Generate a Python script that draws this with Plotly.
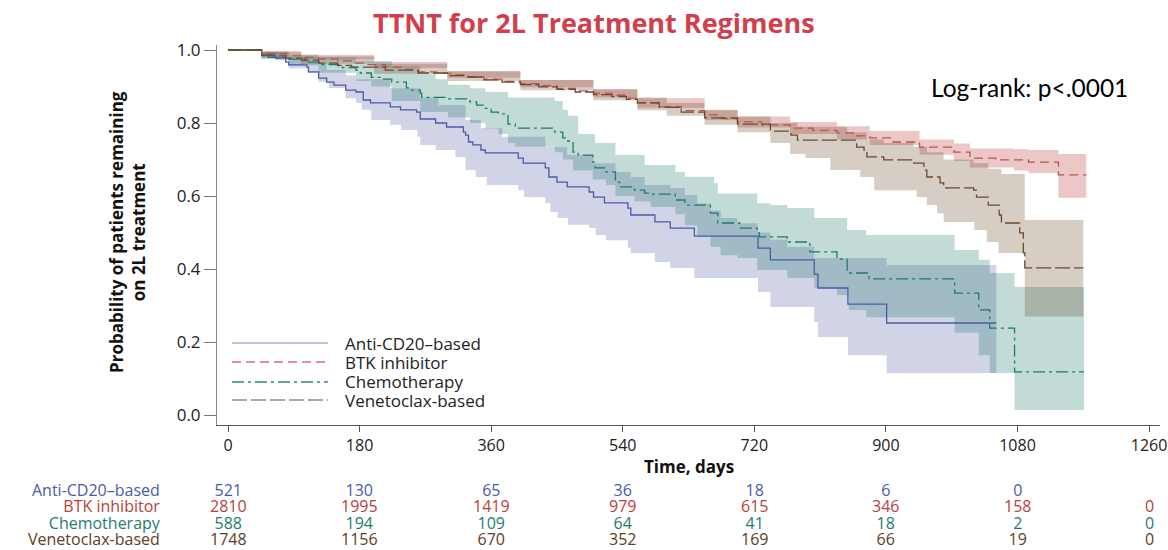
import plotly.graph_objects as go

# ---- Kaplan-Meier estimates (days, probability) ----
cd20_t = [0, 46, 65, 79, 83, 108, 110, 124, 135, 145, 161, 175, 185, 195, 222, 236, 258, 263, 284, 299,
          322, 325, 329, 335, 346, 352, 397, 404, 434, 439, 450, 464, 494, 500, 515, 547, 551, 584, 605,
          638, 725, 742, 802, 807, 848, 901, 1051]
cd20_s = [1.0, 0.986, 0.978, 0.967, 0.959, 0.953, 0.94, 0.923, 0.912, 0.904, 0.89, 0.885, 0.863, 0.855,
          0.844, 0.836, 0.83, 0.811, 0.80, 0.789, 0.775, 0.767, 0.748, 0.74, 0.726, 0.718, 0.704, 0.69,
          0.677, 0.652, 0.638, 0.625, 0.611, 0.597, 0.581, 0.567, 0.548, 0.529, 0.512, 0.49, 0.457, 0.425,
          0.386, 0.348, 0.304, 0.252, 0.252]
cd20_lo_t = [0, 46, 65, 83, 110, 124, 138, 161, 175, 183, 196, 222, 237, 259, 263, 284, 311, 325, 339, 354,
             397, 405, 434, 441, 451, 465, 494, 503, 517, 547, 551, 584, 605, 638, 725, 742, 802, 807, 848,
             901, 1051]
cd20_lo = [1.0, 0.98, 0.972, 0.95, 0.937, 0.912, 0.896, 0.868, 0.855, 0.836, 0.808, 0.795, 0.781, 0.762,
           0.74, 0.726, 0.707, 0.671, 0.652, 0.63, 0.616, 0.597, 0.581, 0.556, 0.54, 0.521, 0.512, 0.493,
           0.479, 0.458, 0.444, 0.419, 0.403, 0.375, 0.337, 0.296, 0.255, 0.214, 0.164, 0.115, 0.115]
cd20_hi_t = [0, 46, 83, 110, 135, 161, 175, 222, 263, 288, 325, 346, 375, 434, 464, 500, 530, 551, 570, 605,
             625, 642, 660, 674, 697, 725, 742, 765, 802, 901, 1051]
cd20_hi = [1.0, 0.995, 0.98, 0.965, 0.945, 0.93, 0.92, 0.895, 0.87, 0.849, 0.808, 0.786, 0.762, 0.734,
           0.712, 0.69, 0.666, 0.652, 0.63, 0.622, 0.603, 0.58, 0.56, 0.54, 0.525, 0.50, 0.48, 0.46, 0.43,
           0.411, 0.411]

btk_t = [0, 46, 55, 79, 100, 124, 150, 169, 190, 215, 240, 260, 285, 305, 328, 350, 375, 400, 425, 450,
         475, 500, 525, 545, 560, 590, 620, 652, 675, 697, 730, 769, 800, 833, 855, 878, 910, 946, 993,
         1015, 1050, 1095, 1136, 1174]
btk_s = [1.0, 0.993, 0.99, 0.984, 0.98, 0.975, 0.97, 0.964, 0.96, 0.953, 0.947, 0.94, 0.936, 0.932, 0.926,
         0.92, 0.914, 0.908, 0.902, 0.895, 0.888, 0.882, 0.876, 0.868, 0.855, 0.845, 0.834, 0.822, 0.812,
         0.803, 0.795, 0.786, 0.78, 0.773, 0.765, 0.759, 0.748, 0.734, 0.72, 0.704, 0.699, 0.693, 0.658,
         0.658]
btk_band_t = [0, 46, 100, 200, 300, 400, 500, 560, 652, 697, 769, 833, 878, 946, 993, 1015, 1075, 1095,
              1136, 1174]
btk_lo = [1.0, 0.988, 0.974, 0.951, 0.924, 0.898, 0.87, 0.842, 0.808, 0.788, 0.77, 0.755, 0.74, 0.713,
          0.696, 0.678, 0.67, 0.663, 0.595, 0.595]
btk_hi = [1.0, 0.997, 0.986, 0.967, 0.942, 0.918, 0.893, 0.868, 0.836, 0.818, 0.803, 0.791, 0.778, 0.755,
          0.744, 0.73, 0.728, 0.726, 0.715, 0.715]

chemo_t = [0, 46, 55, 83, 106, 124, 151, 175, 181, 196, 213, 224, 244, 250, 263, 265, 301, 331, 340, 352,
           360, 370, 383, 393, 447, 458, 465, 472, 479, 499, 502, 517, 530, 536, 556, 570, 578, 612, 625,
           660, 670, 700, 724, 727, 765, 796, 833, 847, 877, 994, 1027, 1042, 1076, 1171]
chemo_s = [1.0, 0.985, 0.98, 0.975, 0.967, 0.96, 0.952, 0.945, 0.937, 0.925, 0.92, 0.912, 0.896, 0.89,
           0.882, 0.87, 0.866, 0.858, 0.849, 0.84, 0.83, 0.825, 0.797, 0.786, 0.775, 0.759, 0.75, 0.72,
           0.712, 0.693, 0.677, 0.666, 0.638, 0.625, 0.616, 0.608, 0.605, 0.589, 0.575, 0.553, 0.526, 0.512,
           0.499, 0.488, 0.474, 0.447, 0.427, 0.389, 0.373, 0.334, 0.288, 0.238, 0.118, 0.118]
chemo_lo_t = [0, 46, 83, 124, 175, 196, 224, 263, 301, 331, 352, 370, 383, 393, 447, 458, 472, 499, 517,
              530, 556, 578, 612, 625, 642, 660, 674, 697, 724, 765, 802, 833, 849, 873, 994, 1027, 1042,
              1076, 1171]
chemo_lo = [1.0, 0.975, 0.958, 0.938, 0.915, 0.9, 0.86, 0.83, 0.815, 0.8, 0.785, 0.77, 0.745, 0.735, 0.72,
            0.70, 0.67, 0.645, 0.63, 0.60, 0.585, 0.57, 0.55, 0.52, 0.49, 0.46, 0.438, 0.43, 0.397, 0.375,
            0.348, 0.329, 0.288, 0.268, 0.225, 0.164, 0.115, 0.014, 0.014]
chemo_hi_t = [0, 46, 83, 124, 175, 224, 263, 284, 301, 331, 352, 383, 447, 458, 465, 479, 502, 530, 570,
              612, 625, 665, 670, 724, 742, 765, 802, 847, 873, 994, 1027, 1042, 1076, 1171]
chemo_hi = [1.0, 0.995, 0.988, 0.98, 0.97, 0.955, 0.935, 0.92, 0.905, 0.895, 0.885, 0.87, 0.86, 0.836,
            0.82, 0.77, 0.745, 0.712, 0.685, 0.666, 0.653, 0.635, 0.607, 0.58, 0.575, 0.567, 0.54, 0.507,
            0.493, 0.452, 0.425, 0.389, 0.351, 0.351]

ven_t = [0, 46, 60, 79, 100, 124, 150, 169, 215, 260, 300, 328, 350, 375, 400, 425, 450, 475, 500, 525,
         545, 560, 590, 620, 652, 697, 742, 770, 779, 860, 870, 874, 897, 938, 952, 956, 974, 979, 1020,
         1024, 1040, 1055, 1058, 1083, 1088, 1090, 1170]
ven_s = [1.0, 0.986, 0.984, 0.978, 0.972, 0.964, 0.958, 0.953, 0.945, 0.937, 0.93, 0.926, 0.918, 0.912,
         0.905, 0.899, 0.892, 0.885, 0.878, 0.872, 0.865, 0.855, 0.843, 0.83, 0.814, 0.797, 0.778, 0.767,
         0.753, 0.734, 0.726, 0.707, 0.699, 0.69, 0.671, 0.652, 0.636, 0.622, 0.616, 0.597, 0.575, 0.548,
         0.526, 0.499, 0.444, 0.403, 0.403]
ven_lo_t = [0, 46, 100, 200, 300, 400, 500, 560, 600, 652, 697, 742, 769, 790, 824, 865, 884, 942, 956,
            970, 979, 1021, 1038, 1054, 1090, 1170]
ven_lo = [1.0, 0.978, 0.962, 0.935, 0.915, 0.89, 0.862, 0.835, 0.82, 0.795, 0.775, 0.745, 0.715, 0.704,
          0.671, 0.652, 0.616, 0.597, 0.575, 0.553, 0.529, 0.507, 0.474, 0.444, 0.27, 0.27]
ven_hi_t = [0, 46, 100, 200, 300, 400, 500, 560, 600, 652, 697, 742, 779, 847, 874, 897, 938, 956, 979,
            1020, 1040, 1058, 1090, 1170]
ven_hi = [1.0, 0.993, 0.982, 0.962, 0.942, 0.918, 0.892, 0.87, 0.855, 0.835, 0.818, 0.8, 0.79, 0.775,
          0.755, 0.745, 0.735, 0.72, 0.70, 0.69, 0.675, 0.66, 0.534, 0.534]

# ---- number at risk ----
risk_times = [0, 180, 360, 540, 720, 900, 1080, 1260]
risk_cd20 = ["521", "130", "65", "36", "18", "6", "0", ""]
risk_btk = ["2810", "1995", "1419", "979", "615", "346", "158", "0"]
risk_chemo = ["588", "194", "109", "64", "41", "18", "2", "0"]
risk_ven = ["1748", "1156", "670", "352", "169", "66", "19", "0"]

groups = [
    dict(name="Anti-CD20\u2013based", t=cd20_t, s=cd20_s, lo_t=cd20_lo_t, lo=cd20_lo, hi_t=cd20_hi_t,
         hi=cd20_hi, line="#4B5BA6", legend_line="#A6AED6", band="rgba(70,85,160,0.25)", dash="solid",
         risk=risk_cd20, text="#4B5BA6"),
    dict(name="BTK inhibitor", t=btk_t, s=btk_s, lo_t=btk_band_t, lo=btk_lo, hi_t=btk_band_t, hi=btk_hi,
         line="#C0504D", legend_line="#D07070", band="rgba(190,70,70,0.30)", dash="9px,5px",
         risk=risk_btk, text="#B83F3A"),
    dict(name="Chemotherapy", t=chemo_t, s=chemo_s, lo_t=chemo_lo_t, lo=chemo_lo, hi_t=chemo_hi_t,
         hi=chemo_hi, line="#1E7B6B", legend_line="#2E8B7A", band="rgba(31,122,106,0.27)",
         dash="12px,4px,3px,4px", risk=risk_chemo, text="#1E7D6C"),
    dict(name="Venetoclax-based", t=ven_t, s=ven_s, lo_t=ven_lo_t, lo=ven_lo, hi_t=ven_hi_t, hi=ven_hi,
         line="#6B4A2B", legend_line="#A08A78", band="rgba(107,74,43,0.28)", dash="15px,4px",
         risk=risk_ven, text="#5E4022"),
]

fig = go.Figure()

# confidence bands
for g in groups:
    fig.add_trace(go.Scatter(x=g["lo_t"], y=g["lo"], mode="lines", line=dict(width=0, shape="hv"),
                             showlegend=False, hoverinfo="skip"))
    fig.add_trace(go.Scatter(x=g["hi_t"], y=g["hi"], mode="lines", line=dict(width=0, shape="hv"),
                             fill="tonexty", fillcolor=g["band"], showlegend=False, hoverinfo="skip"))

# survival curves
for g in groups:
    fig.add_trace(go.Scatter(x=g["t"], y=g["s"], mode="lines", name=g["name"],
                             line=dict(color=g["line"], width=1.3, shape="hv", dash=g["dash"]),
                             showlegend=False))

FONT = "Open Sans"
shapes = []
annotations = []


def stacked(lines, colors, size):
    """Join coloured lines into one multi-line label."""
    return "<br>".join(
        f'<span style="color:{c};font-size:{size}px">{txt if txt else "&nbsp;"}</span>'
        for txt, c in zip(lines, colors))


# legend drawn inside the plot area
leg_y = [0.2158, 0.1658, 0.1132, 0.0658]
for g, yy in zip(groups, leg_y):
    shapes.append(dict(type="line", xref="paper", yref="paper", x0=0.0159, x1=0.1177, y0=yy, y1=yy,
                       line=dict(color=g["legend_line"], width=1.5, dash=g["dash"])))
annotations.append(dict(xref="paper", yref="paper", x=0.1336, y=sum(leg_y) / 4,
                        text=stacked([g["name"] for g in groups], ["#222"] * 4, 17),
                        showarrow=False, xanchor="left", yanchor="middle", align="left",
                        font=dict(family=FONT, size=14.6, color="#222")))

# number-at-risk table: one stacked label per column
table_mid = -0.2352
colors = [g["text"] for g in groups]
annotations.append(dict(xref="paper", yref="paper", x=-0.0573, y=table_mid,
                        text=stacked([g["name"] for g in groups], colors, 16),
                        showarrow=False, xanchor="right", yanchor="middle", align="right",
                        font=dict(family=FONT, size=12.56, color="#222")))
for i, tt in enumerate(risk_times):
    annotations.append(dict(xref="x", yref="paper", x=tt, y=table_mid,
                            text=stacked([g["risk"][i] for g in groups], colors, 16),
                            showarrow=False, xanchor="center", yanchor="middle", align="center",
                            font=dict(family=FONT, size=12.56, color="#222")))

annotations.append(dict(xref="paper", yref="paper", x=0.5, y=-0.1105, text="<b>Time, days</b>",
                        showarrow=False, xanchor="center", yanchor="middle",
                        font=dict(family=FONT, size=17, color="#111")))
annotations.append(dict(xref="paper", yref="paper", x=-0.0944, y=0.508,
                        text="<b>Probability of patients remaining<br>on 2L treatment</b>",
                        showarrow=False, textangle=-90, xanchor="center", yanchor="middle",
                        font=dict(family=FONT, size=17, color="#111")))
annotations.append(dict(xref="x", yref="y", x=1234, y=0.896, text="Log-rank: p<.0001", showarrow=False,
                        xanchor="right", yanchor="middle", font=dict(family="Lato", size=24.5, color="#000")))
annotations.append(dict(xref="paper", yref="paper", x=0.3998, y=1.0, yshift=23,
                        text="<b>TTNT for 2L Treatment Regimens</b>",
                        showarrow=False, xanchor="center", yanchor="middle",
                        font=dict(family="Open Sans", size=27, color="#D0404C")))

fig.update_layout(
    width=1168, height=550,
    margin=dict(l=217, r=8, t=45, b=125, autoexpand=False),
    paper_bgcolor="white", plot_bgcolor="white",
    shapes=shapes, annotations=annotations, showlegend=False,
    xaxis=dict(range=[-15.05, 1274.95], tickmode="array", tickvals=risk_times, ticklabeloverflow="allow",
               automargin=False, ticks="outside", ticklen=6, tickcolor="#555", showline=True,
               linecolor="#555", linewidth=1, showgrid=False, zeroline=False,
               tickfont=dict(family=FONT, size=16, color="#222")),
    yaxis=dict(range=[-0.0274, 1.0137], tickmode="array", tickvals=[0, 0.2, 0.4, 0.6, 0.8, 1.0],
               tickformat=".1f", ticks="outside", ticklen=12, tickcolor="#777", showline=True,
               automargin=False, linecolor="#888", linewidth=1, showgrid=False, zeroline=False,
               tickfont=dict(family=FONT, size=17, color="#222")),
)

fig.write_html("out.html")
